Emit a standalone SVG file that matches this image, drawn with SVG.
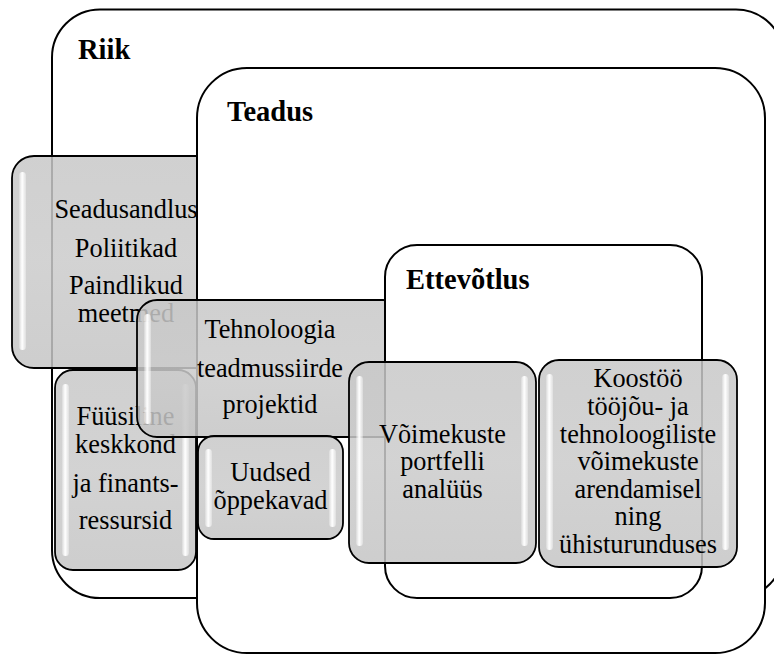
<svg xmlns="http://www.w3.org/2000/svg" width="774" height="655" viewBox="0 0 774 655">
  <defs>
    <linearGradient id="shine" x1="0" y1="0" x2="1" y2="0">
      <stop offset="0" stop-color="#ffffff" stop-opacity="0.2"/>
      <stop offset="0.45" stop-color="#ffffff" stop-opacity="1"/>
      <stop offset="1" stop-color="#ffffff" stop-opacity="0.3"/>
    </linearGradient>
    <linearGradient id="body" x1="0" y1="0" x2="0" y2="1">
      <stop offset="0" stop-color="#c8c8c8"/>
      <stop offset="0.5" stop-color="#cbcbcb"/>
      <stop offset="1" stop-color="#c5c5c5"/>
    </linearGradient>
  </defs>
  <style>
    .frame { fill: #ffffff; stroke: #000000; stroke-width: 2; }
    .title { font-family: "Liberation Serif", "Times New Roman", serif; font-weight: bold; font-size: 28.5px; fill: #000000; }
    .box { fill: url(#body); fill-opacity: 0.85; stroke: #000000; stroke-width: 1.8; }
    .bar { fill: url(#shine); }
    .label { font-family: "Liberation Serif", "Times New Roman", serif; font-size: 26.3px; fill: #000000; text-anchor: middle; }
  </style>
  <rect width="774" height="655" fill="#ffffff"/>

  <!-- State level frame -->
  <g id="riik">
    <rect class="frame" x="52" y="9.5" width="732" height="588.5" rx="48" ry="48"/>
    <text class="title" x="78" y="59">Riik</text>
  </g>

  <!-- Legislation / policies -->
  <g id="seadusandlus">
    <rect class="box" x="12" y="156" width="228" height="212" rx="22" ry="22"/>
    <rect class="bar" x="19" y="172" width="7" height="178" rx="3.5"/>
    <rect class="bar" x="226" y="172" width="7" height="178" rx="3.5"/>
    <text class="label" x="126" y="218">Seadusandlus</text>
    <text class="label" x="126" y="257">Poliitikad</text>
    <text class="label" x="126" y="294">Paindlikud</text>
    <text class="label" x="126" y="322">meetmed</text>
  </g>

  <!-- Physical environment and funding -->
  <g id="fuusiline">
    <rect class="box" x="55" y="370" width="141" height="200" rx="18" ry="18"/>
    <rect class="bar" x="62" y="384" width="7" height="172" rx="3.5"/>
    <rect class="bar" x="182" y="384" width="7" height="172" rx="3.5"/>
    <text class="label" x="125.5" y="425">Füüsiline</text>
    <text class="label" x="125.5" y="453">keskkond</text>
    <text class="label" x="125.5" y="492">ja finants-</text>
    <text class="label" x="125.5" y="529">ressursid</text>
  </g>

  <!-- Research frame -->
  <g id="teadus">
    <rect class="frame" x="197" y="68" width="568" height="585" rx="50" ry="50"/>
    <text class="title" x="227" y="121">Teadus</text>
  </g>

  <!-- Technology transfer projects -->
  <g id="tehnoloogia">
    <rect class="box" x="137" y="300" width="266" height="137" rx="20" ry="20"/>
    <rect class="bar" x="144" y="314" width="7" height="110" rx="3.5"/>
    <rect class="bar" x="389" y="314" width="7" height="110" rx="3.5"/>
    <text class="label" x="270" y="338">Tehnoloogia</text>
    <text class="label" x="270" y="377">teadmussiirde</text>
    <text class="label" x="270" y="413">projektid</text>
  </g>

  <!-- New curricula -->
  <g id="uudsed">
    <rect class="box" x="198" y="436" width="145" height="103" rx="16" ry="16"/>
    <rect class="bar" x="205" y="449" width="7" height="78" rx="3.5"/>
    <rect class="bar" x="329" y="449" width="7" height="78" rx="3.5"/>
    <text class="label" x="270.5" y="481">Uudsed</text>
    <text class="label" x="270.5" y="509">õppekavad</text>
  </g>

  <!-- Enterprise frame -->
  <g id="ettevotlus">
    <rect class="frame" x="385" y="245" width="317" height="353" rx="32" ry="32"/>
    <text class="title" x="406" y="289">Ettevõtlus</text>
  </g>

  <!-- Capability portfolio analysis -->
  <g id="voimekuste">
    <rect class="box" x="349" y="362" width="187" height="201" rx="20" ry="20"/>
    <rect class="bar" x="356" y="376" width="7" height="170" rx="3.5"/>
    <rect class="bar" x="521" y="376" width="7" height="170" rx="3.5"/>
    <text class="label" x="442.5" y="443">Võimekuste</text>
    <text class="label" x="442.5" y="470">portfelli</text>
    <text class="label" x="442.5" y="498">analüüs</text>
  </g>

  <!-- Cooperation -->
  <g id="koostoo">
    <rect class="box" x="539" y="360" width="198" height="207" rx="20" ry="20"/>
    <rect class="bar" x="546" y="374" width="7" height="176" rx="3.5"/>
    <rect class="bar" x="722" y="374" width="7" height="176" rx="3.5"/>
    <text class="label" x="638" y="387">Koostöö</text>
    <text class="label" x="638" y="415">tööjõu- ja</text>
    <text class="label" x="638" y="443">tehnoloogiliste</text>
    <text class="label" x="638" y="470">võimekuste</text>
    <text class="label" x="638" y="498">arendamisel</text>
    <text class="label" x="638" y="525">ning</text>
    <text class="label" x="638" y="553">ühisturunduses</text>
  </g>

  <!-- No connectors in this figure -->
  <g id="connectors"/>
</svg>
